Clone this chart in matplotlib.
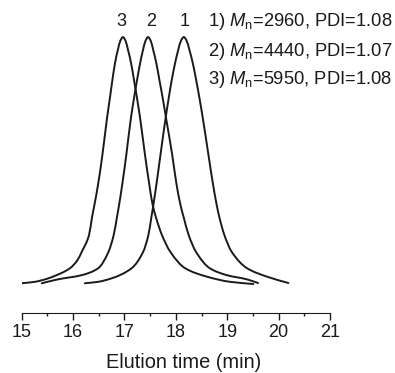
import matplotlib
matplotlib.use("Agg")
import matplotlib.pyplot as plt
from matplotlib.path import Path
from matplotlib.patches import PathPatch
import numpy as np

plt.rcParams['font.family'] = ['Liberation Sans', 'DejaVu Sans']
plt.rcParams['mathtext.fontset'] = 'custom'
plt.rcParams['mathtext.rm'] = 'Liberation Sans'
plt.rcParams['mathtext.it'] = 'Liberation Sans:italic'

# GPC traces (elution time in min, normalised intensity)
time_3 = [15.00, 15.26, 15.49, 15.61, 15.94, 16.08, 16.17, 16.31, 16.37, 16.415,
          16.49, 16.57, 16.66, 16.72, 16.765, 16.815, 16.87, 16.92, 16.97, 17.02,
          17.07, 17.13, 17.185, 17.24, 17.305, 17.40, 17.48, 17.545, 17.61, 17.73,
          17.89, 18.18, 18.60, 19.05, 19.51]
signal_3 = [0.003, 0.009, 0.021, 0.030, 0.064, 0.095, 0.131, 0.198, 0.272, 0.320,
            0.408, 0.522, 0.671, 0.758, 0.826, 0.893, 0.947, 0.985, 1.000, 0.985,
            0.947, 0.893, 0.826, 0.758, 0.671, 0.522, 0.408, 0.324, 0.272, 0.198,
            0.131, 0.064, 0.030, 0.009, 0.000]

time_2 = [15.39, 15.71, 16.17, 16.49, 16.69, 16.79, 16.855, 16.895, 16.96, 17.035,
          17.125, 17.19, 17.245, 17.305, 17.36, 17.41, 17.46, 17.51, 17.56, 17.62,
          17.68, 17.74, 17.81, 17.93, 18.01, 18.09, 18.15, 18.25, 18.39, 18.66,
          18.99, 19.38, 19.60]
signal_2 = [0.003, 0.019, 0.036, 0.064, 0.131, 0.198, 0.272, 0.320, 0.408, 0.522,
            0.671, 0.758, 0.826, 0.894, 0.947, 0.985, 1.000, 0.985, 0.947, 0.894,
            0.826, 0.758, 0.671, 0.522, 0.408, 0.320, 0.272, 0.198, 0.131, 0.064,
            0.036, 0.019, 0.004]

time_1 = [16.23, 16.49, 16.75, 17.14, 17.365, 17.465, 17.525, 17.565, 17.625, 17.70,
          17.80, 17.865, 17.92, 17.985, 18.045, 18.10, 18.155, 18.21, 18.265, 18.33,
          18.395, 18.455, 18.525, 18.635, 18.72, 18.795, 18.845, 18.945, 19.085, 19.385,
          19.77, 20.19]
signal_1 = [0.003, 0.009, 0.023, 0.064, 0.131, 0.198, 0.272, 0.324, 0.408, 0.522,
            0.671, 0.758, 0.826, 0.894, 0.947, 0.985, 1.000, 0.985, 0.947, 0.894,
            0.826, 0.758, 0.671, 0.522, 0.408, 0.320, 0.272, 0.198, 0.131, 0.064,
            0.030, 0.004]

peak_labels = ['3', '2', '1']
label_times = [16.94, 17.51, 18.18]
legend_lines = [r'1) $\mathit{M}_\mathrm{n}$=2960, PDI=1.08',
                r'2) $\mathit{M}_\mathrm{n}$=4440, PDI=1.07',
                r'3) $\mathit{M}_\mathrm{n}$=5950, PDI=1.08']


def smooth_path(x, y):
    # monotone cubic tangents, drawn as bezier segments through the read points
    x = np.asarray(x, float)
    y = np.asarray(y, float)
    h = np.diff(x)
    d = np.diff(y) / h
    m = np.zeros_like(y)
    for k in range(1, len(x) - 1):
        if d[k - 1] * d[k] > 0:
            w1 = 2 * h[k] + h[k - 1]
            w2 = h[k] + 2 * h[k - 1]
            m[k] = (w1 + w2) / (w1 / d[k - 1] + w2 / d[k])
    m[0] = d[0]
    m[-1] = d[-1]
    verts = [(x[0], y[0])]
    codes = [Path.MOVETO]
    for k in range(len(x) - 1):
        verts += [(x[k] + h[k] / 3, y[k] + m[k] * h[k] / 3),
                  (x[k + 1] - h[k] / 3, y[k + 1] - m[k + 1] * h[k] / 3),
                  (x[k + 1], y[k + 1])]
        codes += [Path.CURVE4] * 3
    return Path(verts, codes)


W, H = 395, 373
fig = plt.figure(figsize=(W / 100, H / 100), dpi=100)
ax = fig.add_axes([21.7 / W, 60 / H, 308.3 / W, 293 / H])

for t, s in [(time_3, signal_3), (time_2, signal_2), (time_1, signal_1)]:
    ax.add_patch(PathPatch(smooth_path(t, s), facecolor='none', edgecolor='#1a1a1a',
                           lw=1.4, capstyle='round', joinstyle='round'))

for lab, t in zip(peak_labels, label_times):
    ax.text(t, 1.062, lab, ha='center', va='center', fontsize=13, color='#1a1a1a')

for i, line in enumerate(legend_lines):
    fig.text(208 / W, 1 - (22 + 29 * i) / H, line, ha='left', va='center',
             fontsize=13.2, color='#1a1a1a')

ax.set_xlim(15, 21)
ax.set_ylim(-0.1174, 1.069)
ax.set_xticks(range(15, 22))
ax.set_xticks([x + 0.5 for x in range(15, 21)], minor=True)
ax.tick_params(axis='x', which='major', length=5, width=1, labelsize=13, pad=3,
               colors='#1a1a1a')
ax.tick_params(axis='x', which='minor', length=2.5, width=1, colors='#1a1a1a')
ax.set_yticks([])
for side in ['left', 'right', 'top']:
    ax.spines[side].set_visible(False)
ax.spines['bottom'].set_color('#1a1a1a')
ax.set_xlabel('Elution time (min)', fontsize=14.4, color='#1a1a1a')
ax.xaxis.set_label_coords(0.526, -0.138)
ax.patch.set_alpha(0)

fig.savefig('out.png', dpi=100)
